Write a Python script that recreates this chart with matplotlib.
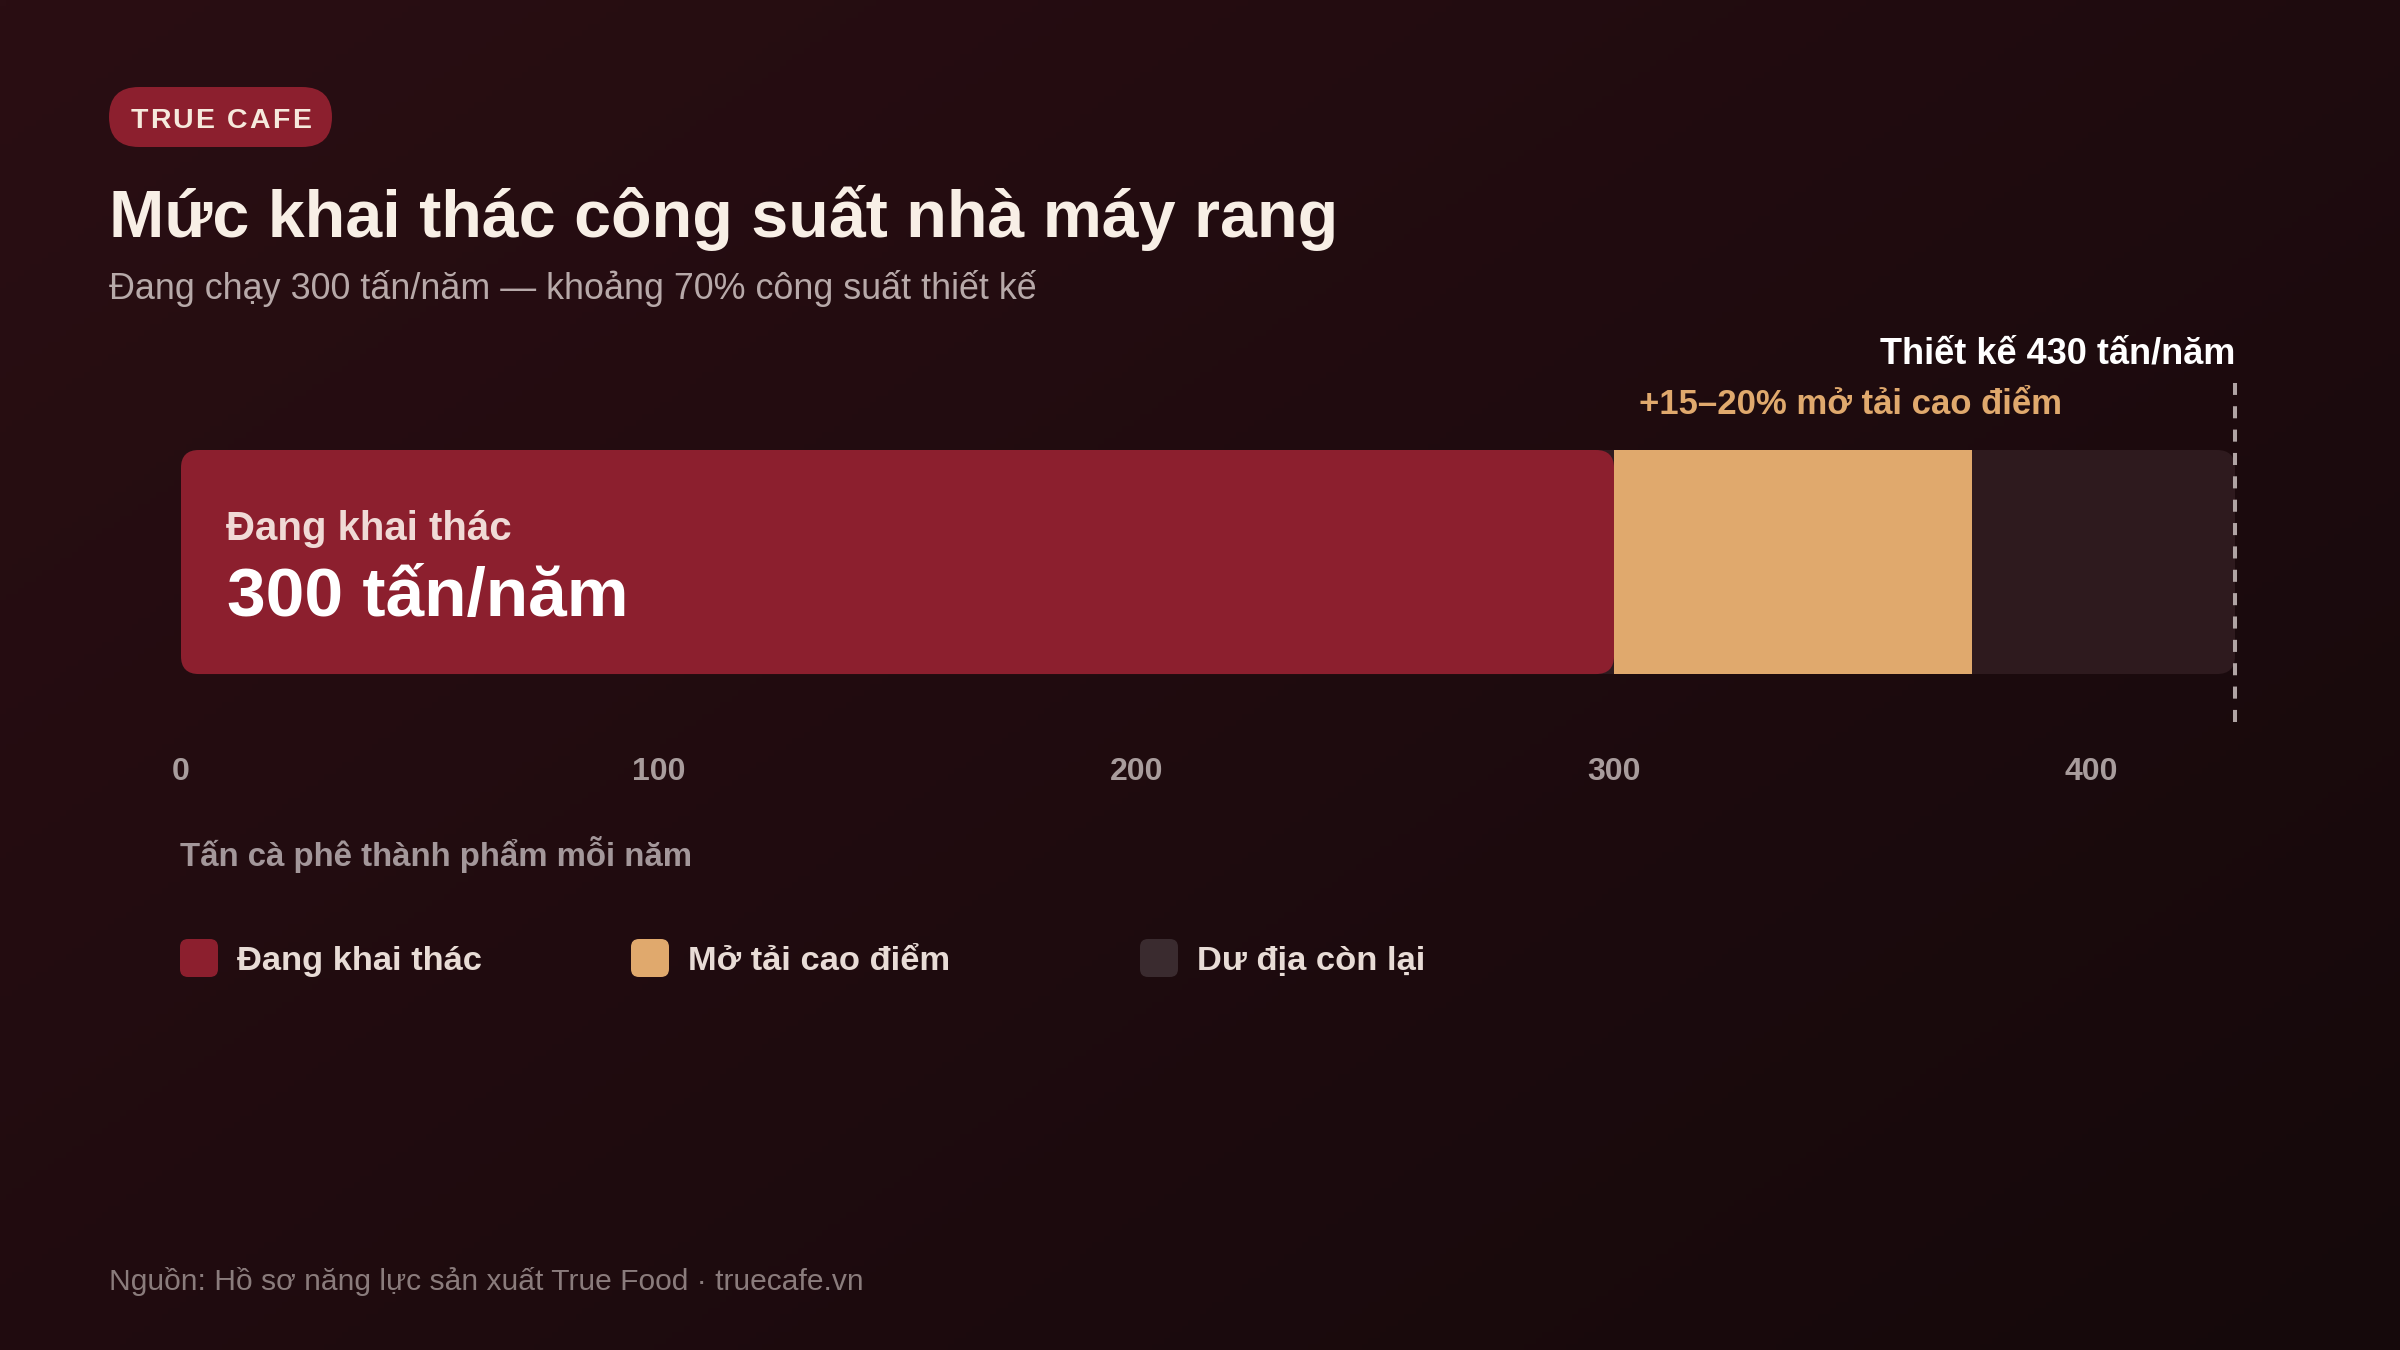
import matplotlib.pyplot as plt
import numpy as np
from matplotlib.patches import FancyBboxPatch

plt.rcParams['font.family'] = ['Liberation Sans', 'DejaVu Sans']

# data
segment_names = ['Đang khai thác', 'Mở tải cao điểm', 'Dư địa còn lại']
current_output = 300      # tấn/năm đang chạy
peak_extra = 75           # phần mở tải cao điểm
design_capacity = 430     # công suất thiết kế
tick_values = [0, 100, 200, 300, 400]

seg_colors = ['#8c1f2e', '#e0a96d', '#2e1a1e']
legend_colors = ['#8c1f2e', '#e0a96d', '#3a2b2f']

W, H = 2400, 1350
fig = plt.figure(figsize=(24, 13.5), dpi=100)

# background gradient
bg = fig.add_axes([0, 0, 1, 1])
gx, gy = np.meshgrid(np.linspace(0, 1, 400), np.linspace(0, 1, 225))
t = np.clip(gx * 0.55 + gy * 0.45, 0, 1)
c0 = np.array([42, 14, 19]) / 255
c1 = np.array([21, 9, 11]) / 255
bg.imshow(c0 + (c1 - c0) * t[..., None], extent=[0, W, H, 0], aspect='auto')
bg.set_xlim(0, W)
bg.set_ylim(H, 0)
bg.axis('off')

# main bar axes (pixel layout)
x0_px, x1_px = 181, 2235
top_px, bot_px = 383, 722
ax = fig.add_axes([x0_px / W, 1 - bot_px / H, (x1_px - x0_px) / W, (bot_px - top_px) / H])
ax.set_xlim(0, design_capacity)
ax.set_ylim(-0.714, 0.799)
ax.patch.set_alpha(0)
for s in ax.spines.values():
    s.set_visible(False)

# aspect for round corners
px_x = (x1_px - x0_px) / design_capacity
px_y = (bot_px - top_px) / (0.799 + 0.714)
asp = px_x / px_y
r = 18 / px_x

def rbar(left, width, color, z):
    p = FancyBboxPatch((left, -0.5), width, 1.0,
                       boxstyle=f"round,pad=0,rounding_size={r}",
                       mutation_aspect=asp, fc=color, ec='none', zorder=z)
    ax.add_patch(p)

rbar(0, design_capacity, seg_colors[2], 1)
rbar(0, current_output, seg_colors[0], 2)
ax.barh(0, peak_extra, left=current_output, height=1.0, color=seg_colors[1], zorder=3)

ax.axvline(design_capacity, color='#b0a4a4', lw=2.9, ls=(0, (3, 2.8)), zorder=4, clip_on=False)

ax.set_xticks(tick_values)
ax.set_xticklabels([str(v) for v in tick_values], fontsize=23, fontweight='bold', color='#a89c9c')
ax.tick_params(axis='x', length=0, pad=25)
ax.set_yticks([])

# annotations tied to data
ax.annotate(f'Thiết kế {design_capacity} tấn/năm', xy=(design_capacity, 1), xycoords=('data', 'axes fraction'),
            xytext=(0, 14.4), textcoords='offset points', ha='right', va='baseline',
            fontsize=26, fontweight='bold', color='#ffffff')
ax.annotate('+15–20% mở tải cao điểm', xy=(current_output, 1), xycoords=('data', 'axes fraction'),
            xytext=(18, -22.3), textcoords='offset points', ha='left', va='baseline',
            fontsize=25, fontweight='bold', color='#e0a96d')
ax.annotate(segment_names[0], xy=(0, 0.5), xycoords='data',
            xytext=(32.4, -64.8), textcoords='offset points', ha='left', va='baseline',
            fontsize=29, fontweight='bold', color='#f0dad6', zorder=5)
ax.annotate(f'{current_output} tấn/năm', xy=(0, 0.5), xycoords='data',
            xytext=(33, -119.5), textcoords='offset points', ha='left', va='baseline',
            fontsize=50, fontweight='bold', color='#ffffff', zorder=5)

# overlay in pixel coords for header / legend / footer
ov = fig.add_axes([0, 0, 1, 1])
ov.set_xlim(0, W)
ov.set_ylim(H, 0)
ov.axis('off')
ov.patch.set_alpha(0)

ov.add_patch(FancyBboxPatch((109, 87), 223, 60, boxstyle="round,pad=0,rounding_size=30",
                            fc='#8c1f2e', ec='none'))

# badge text with letter spacing
renderer = fig.canvas.get_renderer()
badge = 'TRUE CAFE'
spacing = 2.2
chars = [ov.text(0, 128, ch, ha='left', va='baseline', fontsize=20.5,
                 fontweight='bold', color='#f6e9dc') for ch in badge]
widths = []
for ch, tx in zip(badge, chars):
    if ch == ' ':
        widths.append(0.278 * 20.5 * 100 / 72)
    else:
        widths.append(tx.get_window_extent(renderer).width)
total = sum(widths) + spacing * (len(badge) - 1)
cx = 220.5 - total / 2
for tx, w in zip(chars, widths):
    tx.set_x(cx)
    cx += w + spacing

ov.text(109, 237, 'Mức khai thác công suất nhà máy rang', ha='left', va='baseline',
        fontsize=47.8, fontweight='bold', color='#f8efe6')
ov.text(109, 299, 'Đang chạy 300 tấn/năm — khoảng 70% công suất thiết kế', ha='left',
        va='baseline', fontsize=25.8, color='#b7a9a9')

ov.text(180, 866, 'Tấn cà phê thành phẩm mỗi năm', ha='left', va='baseline',
        fontsize=23.8, fontweight='bold', color='#a3979a')

leg_x = [180, 631, 1140]
for name, col, lx in zip(segment_names, legend_colors, leg_x):
    ov.add_patch(FancyBboxPatch((lx, 939), 38, 38, boxstyle="round,pad=0,rounding_size=8",
                                fc=col, ec='none'))
    ov.text(lx + 57, 970, name, ha='left', va='baseline', fontsize=24.8,
            fontweight='bold', color='#e8dcd6')

ov.text(109, 1290, 'Nguồn: Hồ sơ năng lực sản xuất True Food · truecafe.vn', ha='left',
        va='baseline', fontsize=21.6, color='#8a7c7c')

fig.savefig('out.png', dpi=100)
